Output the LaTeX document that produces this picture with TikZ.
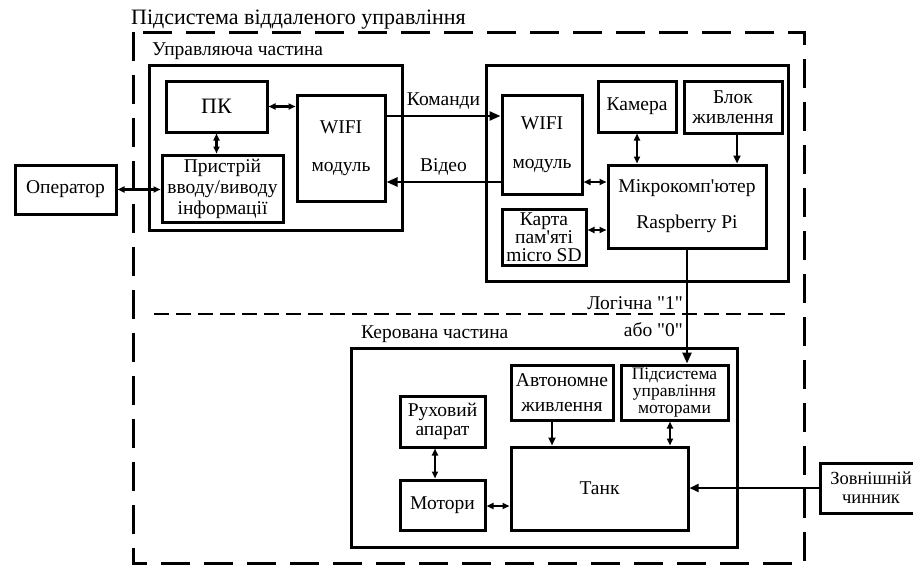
\documentclass[tikz,border=0pt]{standalone}
\usepackage{fontspec}
\setmainfont{Liberation Serif}
\usetikzlibrary{arrows.meta}

\begin{document}
\begin{tikzpicture}[x=1pt, y=-1pt,
    every node/.style={font=\fontsize{19.5}{21}\selectfont},
    lsp/.style={font=\fontsize{19.5}{#1}\selectfont},
    blk/.style={draw, line width=3pt, inner sep=0pt, align=center},
    lbl/.style={inner sep=0pt, anchor=west},
    con/.style={line width=2.4pt},
    ar/.style={con, -{Triangle[length=11pt,width=9pt]}},
    dar/.style={con, {Triangle[length=7pt,width=6pt]}-{Triangle[length=7pt,width=6pt]}}]
    \useasboundingbox (0,0) rectangle (913,565);
    % outer subsystem and the two parts
    \draw[line width=3pt, dash pattern=on 29pt off 14pt] (133,32) rectangle (804,563);
    \draw[line width=2.2pt, dash pattern=on 15pt off 7pt] (154,314) -- (788,314);
    \draw[line width=3pt] (149,65) rectangle (402,230);
    \draw[line width=3pt] (486,65) rectangle (788,281);
    \draw[line width=3pt] (351,348) rectangle (737,547);
    \node[lbl, font=\fontsize{22}{24}\selectfont] (tsys) at (131,20) {Підсистема віддаленого управління};
    \node[lbl] (tctl) at (152,51) {Управляюча частина};
    \node[lbl] (tkrv) at (361,334) {Керована частина};
    % blocks
    \node[blk, minimum width=101pt, minimum height=49pt] (op) at (65.5,189.5) {Оператор};
    \node[blk, minimum width=101pt, minimum height=51pt, font=\fontsize{22}{24}\selectfont] (pk) at (216.5,106.5) {ПК};
    \node[blk, lsp=21, minimum width=121pt, minimum height=67pt] (io) at (222.5,188.5) {Пристрій\\вводу/виводу\\інформації};
    \node[blk, lsp=38, minimum width=88pt, minimum height=106pt] (wf1) at (341,148) {WIFI\\модуль};
    \node[blk, lsp=39, minimum width=80pt, minimum height=99pt] (wf2) at (542,144.5) {WIFI\\модуль};
    \node[blk, minimum width=78pt, minimum height=51pt] (cam) at (637,106.5) {Камера};
    \node[blk, lsp=20, minimum width=98pt, minimum height=52pt] (pwr) at (733,107) {Блок\\живлення};
    \node[blk, lsp=36, minimum width=158pt, minimum height=83pt] (rpi) at (687,206.5) {Мікрокомп\textquotesingle ютер\\Raspberry Pi};
    \node[blk, lsp=18, minimum width=84pt, minimum height=56pt] (sd) at (544,237) {Карта\\пам\textquotesingle яті\\micro SD};
    \node[blk, lsp=18.5, minimum width=85pt, minimum height=51pt] (mov) at (442.5,421.5) {Руховий\\апарат};
    \node[blk, minimum width=85pt, minimum height=50pt] (mot) at (442.5,505) {Мотори};
    \node[blk, lsp=25, minimum width=102pt, minimum height=55pt] (aut) at (562,392.5) {Автономне\\живлення};
    \node[blk, font=\fontsize{17.5}{17}\selectfont, minimum width=107pt, minimum height=55pt] (msub) at (674.5,392.5) {Підсистема\\управління\\моторами};
    \node[blk, minimum width=177pt, minimum height=83pt] (tank) at (599.5,488.5) {Танк};
    \node[blk, font=\fontsize{18.5}{19}\selectfont, minimum width=102pt, minimum height=50pt] (ext) at (871,488) {Зовнішній\\чинник};
    % levels of the horizontal links
    \coordinate (cmd) at (0,116);
    \coordinate (vid) at (0,182);
    \coordinate (sdl) at (0,230);
    \coordinate (mtl) at (0,506);
    % links
    \draw[dar] (pk.east) -- (pk.east -| wf1.west);
    \draw[dar] (pk.south) -- (pk.south |- io.north);
    \draw[dar] (op.east) -- (op.east -| io.west);
    \draw[ar] (wf1.east |- cmd) -- (wf2.west |- cmd) node[lbl, midway, above=6pt, anchor=south] (lcmd) {Команди};
    \draw[ar] (wf2.west |- vid) -- (wf1.east |- vid) node[lbl, midway, above=6pt, anchor=south] (lvid) {Відео};
    \draw[dar] (wf2.east |- vid) -- (rpi.west |- vid);
    \draw[dar] (sd.east |- sdl) -- (rpi.west |- sdl);
    \draw[dar] (cam.south) -- (cam.south |- rpi.north);
    \draw[ar, -{Triangle[length=8pt,width=7pt]}] ([xshift=4pt]pwr.south) -- ([xshift=4pt]pwr.south |- rpi.north);
    \draw[ar] (rpi.south) -- (rpi.south |- msub.north);
    \node[inner sep=0pt, anchor=east] (l1) at (683,303) {Логічна \textquotedbl 1\textquotedbl};
    \node[inner sep=0pt, anchor=east] (l0) at (683,330) {або \textquotedbl 0\textquotedbl};
    \draw[ar, -{Triangle[length=8pt,width=7pt]}] ([xshift=-10pt]aut.south) -- ([xshift=-10pt]aut.south |- tank.north);
    \draw[dar] ([xshift=-4.5pt]msub.south) -- ([xshift=-4.5pt]msub.south |- tank.north);
    \draw[dar] ([xshift=-7.5pt]mov.south) -- ([xshift=-7.5pt]mov.south |- mot.north);
    \draw[dar] (mot.east |- mtl) -- (tank.west |- mtl);
    \draw[ar, -{Triangle[length=9pt,width=8pt]}] (ext.west) -- (ext.west -| tank.east);
\end{tikzpicture}
\end{document}
